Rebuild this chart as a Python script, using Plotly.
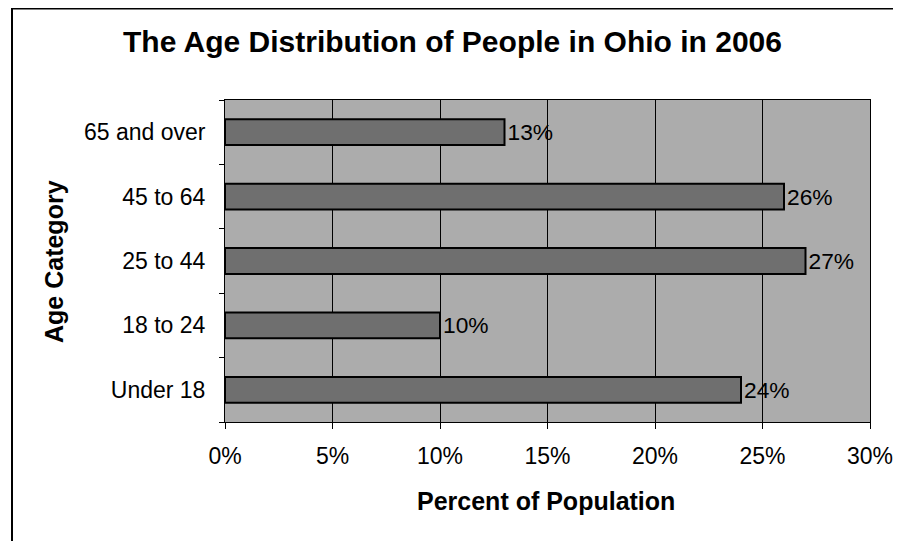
import plotly.graph_objects as go

categories = ["Under 18", "18 to 24", "25 to 44", "45 to 64", "65 and over"]
values = [0.24, 0.10, 0.27, 0.26, 0.13]
labels = ["24%", "10%", "27%", "26%", "13%"]
tick_vals = [0, 0.05, 0.10, 0.15, 0.20, 0.25, 0.30]
tick_text = ["0%", "5%", "10%", "15%", "20%", "25%", "30%"]

FONT = "Liberation Sans, Arial, sans-serif"

# page body has an 8px margin; work in page coords and convert
OFF = 8
W, H = 901 - OFF, 541 - OFF
PL, PR, PT, PB = 225, 870, 100, 422  # plot area in page coords
PW, PH = PR - PL, PB - PT

def px(x):
    return (x - PL) / PW

def py(y):
    return (PB - y) / PH

fig = go.Figure(go.Bar(
    x=values, y=categories, orientation="h",
    text=labels, textposition="outside", cliponaxis=False,
    textfont=dict(family=FONT, size=23, color="black"),
    marker=dict(color="#6f6f6f", line=dict(color="black", width=2)),
))

fig.update_layout(
    width=W, height=H,
    margin=dict(l=PL - OFF, r=W - (PR - OFF), t=PT - OFF, b=H - (PB - OFF), autoexpand=False),
    paper_bgcolor="white", plot_bgcolor="#acacac",
    bargap=0.6, showlegend=False,
    font=dict(family=FONT, size=23, color="black"),
    annotations=[
        dict(text="<b>The Age Distribution of People in Ohio in 2006</b>",
             xref="paper", yref="paper", x=px(452), y=py(41),
             showarrow=False, font=dict(size=30, family=FONT), xanchor="center", yanchor="middle"),
        dict(text="<b>Percent of Population</b>",
             xref="paper", yref="paper", x=px(546), y=py(501),
             showarrow=False, font=dict(size=25, family=FONT), xanchor="center", yanchor="middle"),
        dict(text="<b>Age Category</b>", textangle=-90,
             xref="paper", yref="paper", x=px(54), y=py(262),
             showarrow=False, font=dict(size=25, family=FONT), xanchor="center", yanchor="middle"),
    ],
    shapes=[
        dict(type="line", xref="paper", yref="paper",
             x0=px(12), x1=px(910), y0=py(8.5), y1=py(8.5),
             line=dict(color="black", width=2)),
        dict(type="line", xref="paper", yref="paper",
             x0=px(12), x1=px(12), y0=py(8), y1=py(560),
             line=dict(color="black", width=2)),
    ],
)

fig.update_xaxes(
    range=[0, 0.30], tickvals=tick_vals, ticktext=tick_text,
    showgrid=True, gridcolor="black", gridwidth=1,
    showline=True, linecolor="black", linewidth=1, mirror=True,
    ticks="outside", ticklen=6, tickcolor="black",
    ticklabelstandoff=7, zeroline=False,
    tickfont=dict(size=23, family=FONT),
)
fig.update_yaxes(
    categoryorder="array", categoryarray=categories,
    showline=True, linecolor="black", linewidth=1, mirror=True,
    ticks="outside", ticklen=5, tickcolor="black", tickson="boundaries",
    ticklabelstandoff=14, showgrid=False,
    tickfont=dict(size=23, family=FONT),
)

fig.write_html("out.html")
